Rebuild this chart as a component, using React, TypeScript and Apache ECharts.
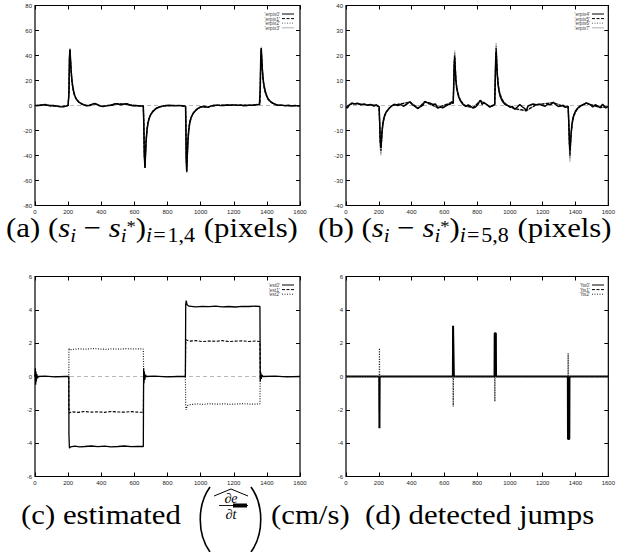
import React, { useEffect, useRef } from 'react';
import * as echarts from 'echarts';

type P = [number, number][];

// ---------- panel (a): (s_i - s_i*) i=1..4 ----------
const erpix0: P = [[0,0.3],[10,-0.3],[20,0],[40,0.2],[60,0.9],[70,0.4],[90,-0.2],[110,0],[130,-0.4],[150,-1],[170,-1.1],[190,-0.5],[200,0.2],[203,0.4],[205,10],[208,38],[211,45],[214,38],[218,28],[223,20],[228,15],[234,11],[240,8],[248,5.5],[256,4],[265,2.8],[275,1.8],[290,0.8],[310,-0.3],[330,0],[350,1.3],[360,1.6],[375,0.8],[390,-0.3],[410,-0.9],[430,-0.3],[450,0],[470,0.4],[485,1.5],[500,1.2],[520,0.6],[540,1.2],[555,1.4],[570,0.3],[590,-0.2],[610,0],[630,-0.3],[650,-0.3],[654,-0.6],[657,-15],[660,-40],[664,-50],[667,-40],[671,-28],[676,-20],[682,-14],[690,-10],[700,-7],[714,-4.5],[730,-2.5],[750,-1.2],[770,-0.5],[790,0],[810,0.2],[830,0],[850,-0.3],[870,0.1],[890,-0.2],[905,-0.4],[909,-0.8],[911,-15],[913,-42],[916,-53],[919,-42],[923,-29],[928,-20],[934,-14],[942,-10],[952,-7],[966,-4.5],[982,-2.5],[1000,-1.2],[1020,-0.6],[1035,-1.2],[1045,-1.4],[1060,-0.5],[1080,0.2],[1100,0.3],[1120,-0.1],[1140,0],[1160,0.4],[1180,0.2],[1200,0.5],[1220,0.1],[1240,0.3],[1260,-0.2],[1280,0],[1300,0.3],[1320,0.1],[1340,0.6],[1355,0.8],[1358,1.2],[1360,14],[1363,38],[1366,46],[1369,38],[1373,28],[1378,20],[1384,15],[1391,11],[1398,8],[1406,5.5],[1415,4],[1425,2.8],[1437,1.8],[1452,0.8],[1470,0.2],[1490,0.3],[1510,-0.2],[1530,0.2],[1550,-0.4],[1570,0.1],[1585,-0.3],[1600,-0.2]];
const erpix1: P = [[0,0],[50,0.5],[100,-0.3],[150,-0.8],[200,0],[203,0.3],[205,10],[208,37],[211,44],[214,37],[218,27],[223,19],[228,14],[234,10],[240,7.5],[250,5],[265,2.6],[290,0.7],[320,-0.2],[360,1.4],[400,-0.6],[450,0.2],[490,1.3],[550,1.1],[600,-0.1],[654,-0.5],[657,-14],[660,-39],[664,-49],[667,-39],[671,-27],[676,-19],[682,-13],[690,-9.5],[700,-6.5],[714,-4.2],[730,-2.3],[750,-1.1],[780,-0.3],[850,0.1],[909,-0.6],[911,-14],[913,-41],[916,-52],[919,-41],[923,-28],[928,-19],[934,-13],[942,-9.5],[952,-6.5],[966,-4.2],[982,-2.3],[1000,-1.1],[1040,-1.2],[1100,0.2],[1200,0.4],[1300,0.2],[1358,1],[1360,13],[1363,37],[1366,45],[1369,37],[1373,27],[1378,19],[1384,14],[1391,10],[1398,7.5],[1406,5.2],[1415,3.8],[1425,2.6],[1437,1.7],[1452,0.7],[1470,0.1],[1550,-0.2],[1600,-0.3]];
const erpix2: P = [[0,0.1],[60,0.7],[120,-0.2],[170,-0.9],[200,0.1],[203,0.3],[205,11],[208,38],[211,45],[214,38],[218,28],[224,19],[230,13],[238,8.5],[248,5.3],[262,3],[285,1],[320,0],[360,1.5],[410,-0.8],[480,1.2],[550,1.3],[610,0],[654,-0.4],[657,-15],[660,-40],[664,-50],[667,-41],[672,-27],[678,-18],[686,-12],[696,-8],[710,-5],[728,-2.8],[750,-1.3],[780,-0.2],[860,0],[909,-0.5],[911,-15],[913,-42],[916,-53],[919,-43],[924,-28],[930,-18],[938,-12],[948,-8],[962,-5],[980,-2.8],[1000,-1.3],[1045,-1.3],[1100,0.2],[1200,0.4],[1300,0.2],[1358,1.1],[1360,14],[1363,38],[1366,46],[1369,38],[1374,27],[1380,19],[1388,13],[1396,9],[1406,6],[1420,3.5],[1440,1.6],[1465,0.4],[1540,-0.3],[1600,-0.2]];
const erpix3: P = [[0,0.2],[60,0.8],[120,-0.1],[170,-1],[200,0.2],[203,0.4],[205,11],[208,39],[211,46],[214,39],[218,29],[224,20],[230,14],[238,9],[248,5.5],[262,3.1],[285,1.1],[320,0.1],[360,1.5],[410,-0.7],[480,1.3],[550,1.2],[610,0.1],[654,-0.5],[657,-16],[660,-41],[664,-50],[667,-41],[672,-28],[678,-19],[686,-12.5],[696,-8.2],[710,-5.2],[728,-2.9],[750,-1.4],[780,-0.3],[860,0.1],[909,-0.6],[911,-16],[913,-43],[916,-54],[919,-44],[924,-29],[930,-19],[938,-12.5],[948,-8.2],[962,-5.2],[980,-2.9],[1000,-1.4],[1045,-1.2],[1100,0.3],[1200,0.5],[1300,0.3],[1358,1.2],[1360,15],[1363,39],[1366,47],[1369,39],[1374,28],[1380,20],[1388,13.5],[1396,9.2],[1406,6.2],[1420,3.6],[1440,1.7],[1465,0.5],[1540,-0.2],[1600,-0.1]];

// ---------- panel (b): (s_i - s_i*) i=5..8 ----------
const erpix4: P = [[0,-0.6],[8,-1],[20,0.2],[35,1],[50,0.6],[70,0.9],[90,0.3],[110,0.6],[130,0.1],[150,0.4],[170,-0.2],[185,0.3],[198,-0.3],[202,-0.5],[205,-6],[209,-14],[213,-17],[216,-14],[220,-10],[225,-7],[231,-5],[238,-3.5],[246,-2.5],[255,-1.8],[265,-1],[280,-0.2],[295,0.5],[315,0],[335,0.4],[350,-0.3],[370,0.5],[390,1.5],[405,0.3],[425,-0.6],[440,-1.2],[455,-0.4],[470,0.2],[480,1.6],[495,1.2],[510,1],[530,0.4],[545,0.6],[560,-1],[575,-0.6],[590,-0.9],[605,-0.3],[620,0.3],[635,0.5],[645,1.5],[650,0.8],[654,1],[657,8],[660,16],[663,19],[666,15],[670,10],[675,7],[680,5.5],[687,3.5],[695,2.2],[705,1.2],[715,0.3],[730,-0.4],[745,0.2],[760,-0.3],[775,-1],[790,-0.6],[805,0.4],[815,1.8],[822,2],[830,0.4],[840,1.3],[850,0.8],[862,0.2],[875,-0.6],[890,-0.2],[903,0.2],[907,0.5],[910,9],[913,18],[916,21.5],[919,17],[923,12],[928,8],[934,5.5],[941,3.5],[950,2.2],[960,1.2],[972,0.3],[985,0.1],[1000,-0.7],[1015,-0.4],[1030,-1.5],[1045,-0.6],[1060,0.4],[1075,-0.5],[1090,-1.2],[1099,-2.2],[1110,-0.2],[1125,0.2],[1140,0.6],[1160,0.3],[1180,0.5],[1200,0],[1215,-0.3],[1230,0.5],[1250,0.4],[1264,1.3],[1280,0.3],[1295,-0.4],[1310,-0.2],[1325,0.1],[1340,-0.8],[1350,-0.3],[1355,-0.5],[1359,-7],[1363,-15],[1366,-18],[1369,-15],[1373,-11],[1378,-7.5],[1384,-5],[1391,-3.5],[1400,-2.2],[1410,-1.3],[1422,-0.5],[1435,0],[1450,0.4],[1465,1],[1475,0.8],[1490,0.3],[1505,-0.6],[1520,0.3],[1535,-0.2],[1550,-0.9],[1565,0.5],[1575,-0.3],[1585,-1],[1595,-0.4],[1600,-0.6]];
const erpix5: P = [[0,-0.4],[40,0.8],[100,0.4],[160,0.2],[202,-0.4],[205,-6],[209,-15],[213,-18],[216,-15],[220,-10.5],[226,-7],[234,-4.5],[245,-2.7],[260,-1.3],[280,0],[390,1.3],[440,-1],[480,1.4],[560,-0.8],[645,1.2],[654,0.9],[657,8],[660,17],[663,20],[666,16],[670,10.5],[676,7],[684,4.4],[695,2.5],[710,1],[730,-0.2],[775,-0.8],[820,1.8],[880,-0.5],[907,0.4],[910,9],[913,19],[916,23],[919,18],[923,12.5],[929,8],[937,5],[948,3],[962,1.3],[985,0],[1030,-1.3],[1099,-2],[1160,0.3],[1264,1.1],[1340,-0.7],[1355,-0.4],[1359,-7],[1363,-16],[1366,-20],[1369,-16],[1373,-11.5],[1379,-7.5],[1387,-4.8],[1398,-2.8],[1412,-1.3],[1435,0],[1465,0.9],[1550,-0.8],[1600,-0.5]];
const erpix6: P = [[0,-0.5],[40,0.7],[100,0.5],[160,0.3],[202,-0.4],[205,-7],[209,-16],[213,-19],[216,-15.5],[220,-11],[226,-7.2],[234,-4.6],[245,-2.8],[260,-1.4],[280,0],[390,1.4],[440,-1.1],[480,1.5],[560,-0.9],[645,1.3],[654,0.9],[657,9],[660,18],[663,21],[666,17],[670,11],[676,7.3],[684,4.5],[695,2.6],[710,1],[730,-0.3],[775,-0.9],[820,1.9],[880,-0.5],[907,0.4],[910,10],[913,20],[916,24],[919,19],[923,13],[929,8.3],[937,5.2],[948,3.1],[962,1.4],[985,0],[1030,-1.4],[1099,-2.1],[1160,0.3],[1264,1.2],[1340,-0.7],[1355,-0.4],[1359,-8],[1363,-17],[1366,-21],[1369,-17],[1373,-12],[1379,-7.8],[1387,-5],[1398,-2.9],[1412,-1.4],[1435,0],[1465,0.9],[1550,-0.8],[1600,-0.5]];
const erpix7: P = [[0,-0.5],[40,0.9],[100,0.4],[160,0.4],[202,-0.5],[205,-7],[209,-17],[213,-20],[216,-16],[220,-11.5],[226,-7.5],[234,-4.8],[245,-2.9],[260,-1.4],[280,0],[390,1.5],[440,-1.2],[480,1.6],[560,-1],[645,1.4],[654,1],[657,9],[660,19],[663,22],[666,17.5],[670,11.5],[676,7.5],[684,4.7],[695,2.7],[710,1.1],[730,-0.3],[775,-1],[820,2],[880,-0.6],[907,0.5],[910,10],[913,21],[916,25],[919,20],[923,13.5],[929,8.6],[937,5.4],[948,3.2],[962,1.4],[985,0],[1030,-1.5],[1099,-2.2],[1160,0.3],[1264,1.3],[1340,-0.8],[1355,-0.5],[1359,-9],[1363,-18],[1366,-22.5],[1369,-18],[1373,-12.5],[1379,-8],[1387,-5.2],[1398,-3],[1412,-1.4],[1435,0],[1465,1],[1550,-0.9],[1600,-0.6]];

// ---------- panel (c): estimated de/dt ----------
const est0: P = [[0,0],[2,0.5],[4,-0.5],[6,0.3],[8,-0.3],[11,0.15],[15,-0.1],[20,0],[60,0.02],[120,-0.02],[180,0],[204,0],[205,-3.5],[208,-4.3],[215,-4.22],[240,-4.18],[270,-4.22],[300,-4.2],[340,-4.17],[380,-4.21],[420,-4.18],[460,-4.22],[500,-4.2],[540,-4.17],[580,-4.21],[620,-4.19],[654,-4.2],[656,0.5],[658,-0.4],[660,0.3],[663,-0.2],[667,0.1],[672,0],[720,0.02],[800,-0.02],[860,0],[908,0],[910,4.3],[913,4.55],[918,4.3],[930,4.22],[970,4.18],[1010,4.21],[1050,4.19],[1090,4.22],[1130,4.18],[1170,4.2],[1210,4.17],[1250,4.21],[1290,4.2],[1330,4.22],[1358,4.2],[1360,-0.3],[1363,0.25],[1366,-0.15],[1370,0.1],[1376,0],[1450,0.02],[1520,-0.02],[1600,0]];
const est1: P = [[0,0],[3,0.2],[6,-0.2],[12,0],[204,0],[205,-1.9],[208,-2.2],[220,-2.12],[260,-2.15],[300,-2.1],[340,-2.14],[380,-2.12],[420,-2.15],[460,-2.1],[500,-2.13],[540,-2.14],[580,-2.11],[620,-2.14],[654,-2.15],[656,0.2],[660,-0.1],[665,0],[908,0],[910,2.0],[913,2.2],[930,2.12],[970,2.15],[1010,2.1],[1050,2.13],[1090,2.11],[1130,2.15],[1170,2.1],[1210,2.12],[1250,2.14],[1290,2.1],[1330,2.13],[1358,2.1],[1360,-0.1],[1365,0.05],[1370,0],[1600,0]];
const est2: P = [[0,0],[204,0],[205,1.7],[208,1.6],[230,1.63],[270,1.66],[310,1.64],[350,1.68],[390,1.65],[430,1.63],[470,1.66],[510,1.64],[550,1.67],[590,1.65],[630,1.66],[654,1.65],[656,0],[908,0],[910,-1.8],[913,-2.0],[918,-1.75],[940,-1.68],[980,-1.65],[1020,-1.67],[1060,-1.63],[1100,-1.66],[1140,-1.64],[1180,-1.67],[1220,-1.65],[1260,-1.63],[1300,-1.66],[1340,-1.65],[1358,-1.64],[1360,0],[1600,0]];

// ---------- panel (d): detected jumps ----------
const fts0: P = [[0,0],[203,0],[204,-3.1],[205,0],[652,0],[653,3.05],[657,3.05],[658,0],[906,0],[907,2.6],[914,2.6],[915,0],[1353,0],[1354,-3.75],[1362,-3.75],[1363,0],[1600,0]];
const fts1: P = [[0,0],[203,0],[204,-2.1],[205,0],[653,0],[654,2.1],[655,0],[907,0],[908,2.1],[909,0],[1354,0],[1355,-2.1],[1356,0],[1600,0]];
const fts2: P = [[0,0],[203,0],[204,1.7],[205,0],[653,0],[654,-1.8],[655,0],[907,0],[908,-1.5],[909,0],[1354,0],[1355,1.4],[1356,0],[1600,0]];

const zeroLine: P = [[0,0],[1600,0]];

const xRange = [0, 1600, 200];
const yRanges = [[-80, 80, 20], [-40, 40, 10], [-6, 6, 2], [-6, 6, 2]];

const namesA = ["'erpix0'", "'erpix1'", "'erpix2'", "'erpix3'"];
const namesB = ["'erpix4'", "'erpix5'", "'erpix6'", "'erpix7'"];
const namesC = ["'est0'", "'est1'", "'est2'"];
const namesD = ["'fts0'", "'fts1'", "'fts2'"];

// caption pieces: [text, kind]  (kinds: R roman, I italic, S subscript italic, SUP superscript,
// T subscript-2 italic, U subscript-2 roman, _ = space)
type Piece = [string, string];
const captionA: Piece[] = [['(a)', 'R'], [' ', '_'], ['(', 'R'], ['s', 'I'], ['i', 'S'], [' ', '_'], ['−', 'R'], [' ', '_'], ['s', 'I'], ['i', 'S'], ['*', 'SUP'], [')', 'R'], ['i', 'T'], ['=', 'U'], ['1,4', 'U'], [' ', '_'], ['(pixels)', 'R']];
const captionB: Piece[] = [['(b)', 'R'], [' ', '_'], ['(', 'R'], ['s', 'I'], ['i', 'S'], [' ', '_'], ['−', 'R'], [' ', '_'], ['s', 'I'], ['i', 'S'], ['*', 'SUP'], [')', 'R'], ['i', 'T'], ['=', 'U'], ['5,8', 'U'], [' ', '_'], ['(pixels)', 'R']];
const captionC: Piece[] = [['(c)', 'R'], [' ', '_'], ['estimated', 'R']];
const captionCunit: Piece[] = [['(cm/s)', 'R']];
const captionD: Piece[] = [['(d)', 'R'], [' ', '_'], ['detected', 'R'], [' ', '_'], ['jumps', 'R']];

const SANS = 'Liberation Sans';
const SERIF = 'Liberation Serif';

const grids = [
  { left: 35, top: 5.5, width: 265, height: 200 },
  { left: 346, top: 5.5, width: 265, height: 200 },
  { left: 35, top: 276.5, width: 265, height: 200 },
  { left: 346, top: 276.5, width: 265, height: 200 },
];

const lineKinds = [
  { color: '#000', width: 1.5, dash: null as number[] | null },
  { color: '#000', width: 1.2, dash: [3, 1.5] },
  { color: '#666', width: 1.2, dash: [1, 1.5] },
  { color: '#b0b0b0', width: 1.2, dash: null },
];

// piece styles: size, italic, baseline shift, extra padding each side
const kindStyle: Record<string, { size: number; italic: boolean; dy: number; pad: number }> = {
  R: { size: 28, italic: false, dy: 0, pad: 0 },
  I: { size: 28, italic: true, dy: 0, pad: 0 },
  S: { size: 19, italic: true, dy: 5, pad: 0 },
  SUP: { size: 17, italic: false, dy: -5, pad: 0 },
  T: { size: 20, italic: true, dy: 5, pad: 0 },
  U: { size: 20, italic: false, dy: 5, pad: 1 },
  _: { size: 28, italic: false, dy: 0, pad: 0 },
};
const SX = 1.1;
const CENTRAL = 0.3375; // central-baseline offset of Liberation Serif, in em

function mkSeries(name: string, data: P, g: number, kind: number, z: number, w?: number, color?: string) {
  const k = lineKinds[kind];
  const c = color ?? k.color;
  return {
    type: 'line', name, data, xAxisIndex: g * 2, yAxisIndex: g * 2,
    symbol: 'none', showSymbol: false, silent: true, z,
    lineStyle: { color: c, width: w ?? k.width, type: k.dash ?? 'solid' },
    itemStyle: { color: c },
  };
}

function zeroSeries(g: number) {
  return {
    type: 'line', data: zeroLine, xAxisIndex: g * 2, yAxisIndex: g * 2,
    symbol: 'none', silent: true, z: 1,
    lineStyle: { color: '#b8b8b8', width: 1, type: [4, 3] },
  };
}

function keyFor(names: string[], kinds: number[], colors: (string | undefined)[], textRight: number, top: number, out: any[]) {
  names.forEach((n, i) => {
    const y = top + i * 4.6;
    const k = lineKinds[kinds[i]];
    out.push({ type: 'text', x: textRight, y, silent: true, style: { text: n, fontSize: 5, fontFamily: SANS, fill: '#444', align: 'right', verticalAlign: 'middle' } });
    out.push({ type: 'line', silent: true, shape: { x1: textRight + 2, y1: y, x2: textRight + 14, y2: y }, style: { stroke: colors[i] ?? k.color, lineWidth: 1, lineDash: k.dash ?? undefined } });
  });
}

function layCaption(pieces: Piece[], x0: number, baseline: number, ctx: CanvasRenderingContext2D, out: any[]) {
  let x = x0;
  pieces.forEach(([t, kind]) => {
    const st = kindStyle[kind];
    ctx.font = `${st.italic ? 'italic ' : ''}${st.size}px "${SERIF}"`;
    const w = ctx.measureText(t).width * SX;
    if (kind !== '_') {
      x += st.pad;
      out.push({
        type: 'text', x, y: baseline + st.dy - CENTRAL * st.size, scaleX: SX, silent: true,
        style: { text: t, fontFamily: SERIF, fontSize: st.size, fontStyle: st.italic ? 'italic' : 'normal', fill: '#000', align: 'left', verticalAlign: 'middle' },
      });
      x += st.pad;
    }
    x += w;
  });
}

export default function App() {
  const ref = useRef<HTMLDivElement>(null);
  useEffect(() => {
    if (!ref.current) return;
    const chart = echarts.init(ref.current, undefined, { renderer: 'svg' });
    const xAxis: any[] = [];
    const yAxis: any[] = [];
    const fmt = (v: number) => String(v);
    grids.forEach((_, g) => {
      const tick = { show: true, inside: true, length: 4, lineStyle: { color: '#000', width: 1 } };
      const lbl = { fontSize: 6, fontFamily: SANS, color: '#222', margin: 3, formatter: fmt };
      ['bottom', 'top'].forEach((pos, j) => xAxis.push({
        type: 'value', gridIndex: g, position: pos, min: xRange[0], max: xRange[1], interval: xRange[2],
        axisLine: { show: false, onZero: false }, axisTick: tick, splitLine: { show: false },
        axisLabel: { ...lbl, show: j === 0 },
      }));
      const yr = yRanges[g];
      ['left', 'right'].forEach((pos, j) => yAxis.push({
        type: 'value', gridIndex: g, position: pos, min: yr[0], max: yr[1], interval: yr[2],
        axisLine: { show: false, onZero: false }, axisTick: tick, splitLine: { show: false },
        axisLabel: { ...lbl, show: j === 0 },
      }));
    });

    const series: any[] = [
      zeroSeries(0), zeroSeries(1), zeroSeries(2), zeroSeries(3),
      mkSeries(namesA[3], erpix3, 0, 3, 2), mkSeries(namesA[2], erpix2, 0, 2, 3),
      mkSeries(namesA[1], erpix1, 0, 1, 4), mkSeries(namesA[0], erpix0, 0, 0, 5),
      mkSeries(namesB[3], erpix7, 1, 3, 2), mkSeries(namesB[2], erpix6, 1, 2, 3),
      mkSeries(namesB[1], erpix5, 1, 1, 4), mkSeries(namesB[0], erpix4, 1, 0, 5),
      mkSeries(namesC[2], est2, 2, 2, 3, 1.2, '#222'), mkSeries(namesC[1], est1, 2, 1, 4, 1.1), mkSeries(namesC[0], est0, 2, 0, 5, 1.3),
      mkSeries(namesD[2], fts2, 3, 2, 5, 1.2, '#222'), mkSeries(namesD[1], fts1, 3, 1, 4), mkSeries(namesD[0], fts0, 3, 0, 3, 2),
    ];

    const graphic: any[] = [
      { type: 'bezierCurve', shape: { x1: 210, y1: 487, cpx1: 197, cpy1: 505, cpx2: 197, cpy2: 534, x2: 210, y2: 552 }, style: { stroke: '#000', lineWidth: 1.6, fill: null } },
      { type: 'bezierCurve', shape: { x1: 251, y1: 487, cpx1: 264, cpy1: 505, cpx2: 264, cpy2: 534, x2: 251, y2: 552 }, style: { stroke: '#000', lineWidth: 1.6, fill: null } },
      { type: 'polyline', shape: { points: [[214, 496], [231, 489], [248, 496]] }, style: { stroke: '#000', lineWidth: 1, fill: null } },
      { type: 'text', x: 231, y: 498, style: { text: '∂e', fontFamily: SERIF, fontStyle: 'italic', fontSize: 14, align: 'center', verticalAlign: 'middle', fill: '#000' } },
      { type: 'line', shape: { x1: 219, y1: 505.5, x2: 248, y2: 505.5 }, style: { stroke: '#000', lineWidth: 0.9 } },
      { type: 'rect', shape: { x: 233, y: 503.5, width: 14, height: 4 }, style: { fill: '#000' } },
      { type: 'text', x: 231, y: 514, style: { text: '∂t', fontFamily: SERIF, fontStyle: 'italic', fontSize: 14, align: 'center', verticalAlign: 'middle', fill: '#000' } },
    ];
    const ctx = document.createElement('canvas').getContext('2d') as CanvasRenderingContext2D;
    layCaption(captionA, 6, 237, ctx, graphic);
    layCaption(captionB, 318, 237, ctx, graphic);
    layCaption(captionC, 21, 524, ctx, graphic);
    layCaption(captionCunit, 271, 524, ctx, graphic);
    layCaption(captionD, 365, 524, ctx, graphic);
    keyFor(namesA, [0, 1, 2, 3], [], 280, 14, graphic);
    keyFor(namesB, [0, 1, 2, 3], [], 590, 14, graphic);
    keyFor(namesC, [0, 1, 2], [undefined, undefined, '#222'], 280, 285, graphic);
    keyFor(namesD, [0, 1, 2], [undefined, undefined, '#222'], 590, 285, graphic);

    chart.setOption({
      animation: false,
      backgroundColor: '#fff',
      grid: grids.map((g) => ({ ...g, show: true, borderColor: '#000', borderWidth: 1.2, backgroundColor: 'transparent', containLabel: false })),
      xAxis, yAxis,
      series,
      graphic,
    });
    return () => chart.dispose();
  }, []);
  return <div ref={ref} style={{ position: 'absolute', left: 0, top: 0, width: 618, height: 552, background: '#fff' }} />;
}
